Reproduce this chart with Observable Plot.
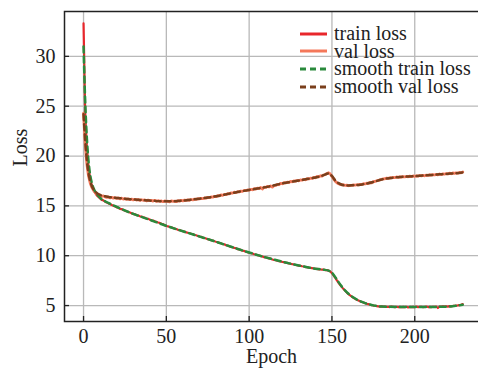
<!DOCTYPE html>
<html>
<head>
<meta charset="utf-8">
<script src="https://cdn.jsdelivr.net/npm/d3@7"></script>
<script src="https://cdn.jsdelivr.net/npm/@observablehq/plot@0.6"></script>
<style>
  html, body { margin: 0; padding: 0; background: #fff; }
  #wrap { position: relative; width: 478px; height: 370px; font-family: "Liberation Serif", "DejaVu Serif", serif; }
  #legend { position: absolute; left: 298px; top: 25px; font-size: 20px; color: #222; line-height: 17.6px; }
  #legend div { display: flex; align-items: center; white-space: nowrap; height: 17.6px; }
  #legend span { display: inline-block; height: 17.6px; line-height: 17.6px; }
  #legend svg { margin-right: 6px; }
</style>
</head>
<body>
<div id="wrap"><div id="legend"></div></div>
<script>
// ---- data ----
const trainLoss = [
33.3,24.2,20.9,18.9,17.7,17.0,16.6,16.3,16.05,15.9,
15.75,15.6,15.55,15.42,15.35,15.25,15.2,15.08,15.02,14.95,
14.85,14.82,14.7,14.68,14.58,14.52,14.47,14.38,14.33,14.25,
14.2,14.15,14.08,14.05,13.96,13.92,13.86,13.82,13.72,13.7,
13.62,13.55,13.52,13.45,13.4,13.33,13.3,13.2,13.18,13.05,
12.98,12.95,12.88,12.85,12.78,12.72,12.68,12.6,12.57,12.5,
12.45,12.42,12.34,12.3,12.25,12.2,12.18,12.08,12.05,11.98,
11.92,11.9,11.82,11.78,11.72,11.66,11.62,11.55,11.52,11.45,
11.4,11.36,11.28,11.25,11.16,11.15,11.05,11.02,10.95,10.88,
10.85,10.78,10.75,10.66,10.62,10.58,10.5,10.48,10.4,10.35,
10.3,10.26,10.22,10.15,10.12,10.05,10.02,9.96,9.92,9.85,
9.82,9.78,9.72,9.7,9.62,9.58,9.55,9.5,9.46,9.42,
9.38,9.36,9.3,9.28,9.22,9.2,9.15,9.12,9.08,9.05,
9.0,8.98,8.94,8.92,8.86,8.85,8.8,8.78,8.75,8.72,
8.68,8.68,8.63,8.62,8.6,8.6,8.56,8.55,8.5,8.42,
8.25,8.02,7.78,7.52,7.28,7.05,6.85,6.65,6.48,6.3,
6.15,6.02,5.9,5.78,5.68,5.58,5.5,5.42,5.35,5.3,
5.24,5.18,5.14,5.08,5.05,5.0,4.98,4.95,4.92,4.9,
4.92,4.88,4.9,4.86,4.88,4.85,4.9,4.86,4.84,4.88,
4.85,4.87,4.83,4.86,4.85,4.88,4.82,4.86,4.84,4.87,
4.85,4.9,4.84,4.86,4.88,4.83,4.86,4.9,4.85,4.87,
4.84,4.88,4.86,4.9,4.75,4.9,4.88,4.92,4.9,4.93,
4.88,4.95,4.92,4.96,4.98,5.0,5.02,5.05,5.08,5.15
];
const valLoss = [
24.3,21.2,19.2,18.0,17.3,16.85,16.55,16.35,16.2,16.1,
16.05,15.95,16.0,15.9,15.85,15.9,15.8,15.85,15.78,15.82,
15.75,15.8,15.7,15.78,15.68,15.72,15.65,15.7,15.62,15.68,
15.6,15.66,15.58,15.64,15.55,15.62,15.56,15.6,15.5,15.58,
15.52,15.55,15.48,15.56,15.45,15.52,15.46,15.5,15.42,15.5,
15.44,15.47,15.4,15.5,15.45,15.48,15.42,15.52,15.48,15.55,
15.5,15.58,15.55,15.6,15.56,15.64,15.6,15.68,15.65,15.72,
15.7,15.75,15.72,15.8,15.78,15.85,15.82,15.9,15.88,15.95,
15.92,16.02,16.0,16.1,16.05,16.15,16.12,16.22,16.2,16.3,
16.28,16.38,16.33,16.42,16.4,16.48,16.45,16.55,16.52,16.6,
16.58,16.65,16.62,16.72,16.68,16.78,16.75,16.85,16.7,16.88,
16.85,16.95,16.9,17.0,16.88,17.02,17.05,17.15,17.12,17.25,
17.22,17.32,17.3,17.38,17.35,17.45,17.42,17.5,17.48,17.55,
17.52,17.6,17.58,17.66,17.62,17.72,17.7,17.78,17.75,17.85,
17.82,17.95,17.9,18.02,17.98,18.1,18.15,18.25,18.32,18.2,
17.95,17.7,17.48,17.32,17.22,17.15,17.1,17.12,17.05,17.08,
17.02,17.06,17.05,17.1,17.08,17.12,17.1,17.16,17.15,17.22,
17.2,17.28,17.26,17.34,17.32,17.42,17.45,17.52,17.55,17.62,
17.65,17.7,17.72,17.78,17.76,17.82,17.8,17.86,17.84,17.9,
17.86,17.92,17.88,17.94,17.9,17.95,17.92,17.98,17.94,18.0,
17.96,18.02,17.98,18.05,18.0,18.06,18.02,18.08,18.05,18.12,
18.08,18.14,18.1,18.16,18.12,18.2,18.15,18.22,18.18,18.25,
18.2,18.28,18.22,18.3,18.26,18.32,18.28,18.35,18.32,18.4
];
const smoothEpochs = [0,1,2,3,4,5,6,8,10,15,20,30,40,50,55,60,70,80,90,100,110,120,130,140,145,148,150,152,154,156,158,160,163,166,170,175,180,190,200,210,220,225,229];
const smoothTrain = [31.0,25.5,21.8,19.5,18.1,17.3,16.8,16.2,15.8,15.3,14.9,14.2,13.6,13.0,12.72,12.45,11.93,11.4,10.85,10.32,9.83,9.4,9.02,8.7,8.6,8.5,8.3,7.85,7.35,6.9,6.5,6.18,5.8,5.52,5.25,5.02,4.9,4.86,4.86,4.86,4.9,4.98,5.08];
const smoothVal = [24.2,21.6,19.6,18.3,17.5,17.0,16.65,16.3,16.1,15.9,15.8,15.65,15.53,15.46,15.46,15.53,15.72,15.96,16.3,16.6,16.88,17.25,17.55,17.85,18.08,18.25,18.0,17.55,17.28,17.12,17.05,17.05,17.08,17.1,17.2,17.4,17.64,17.88,17.98,18.1,18.22,18.28,18.36];
const xTicks = [0, 50, 100, 150, 200];
const yTicks = [5, 10, 15, 20, 25, 30];
const seriesNames = ["train loss", "val loss", "smooth train loss", "smooth val loss"];
const seriesColors = ["#e8262b", "#f4785a", "#2a8a3c", "#7a3f1c"];
const seriesDash = [null, null, "6,4", "6,4"];

// ---- build tables ----
const epochs = d3.range(trainLoss.length);
const trainRows = epochs.map(i => ({epoch: i, loss: trainLoss[i]}));
const valRows = epochs.map(i => ({epoch: i, loss: valLoss[i]}));
const sTrainRows = smoothEpochs.map((e, i) => ({epoch: e, loss: smoothTrain[i]}));
const sValRows = smoothEpochs.map((e, i) => ({epoch: e, loss: smoothVal[i]}));

const fontSize = 20;
const chart = Plot.plot({
  width: 478,
  height: 370,
  marginLeft: 64,
  marginRight: 0,
  marginTop: 11,
  marginBottom: 49,
  style: {fontFamily: '"Liberation Serif", "DejaVu Serif", serif', fontSize: fontSize + "px", color: "#222", background: "#fff"},
  x: {domain: [-11.5, 238.5]},
  y: {domain: [3.4, 34.5]},
  marks: [
    Plot.gridX(xTicks, {stroke: "#b9b9b9", strokeOpacity: 1, strokeWidth: 1.3}),
    Plot.gridY(yTicks, {stroke: "#b9b9b9", strokeOpacity: 1, strokeWidth: 1.3}),
    Plot.axisX({ticks: xTicks, tickSize: -5, tickPadding: 12, label: null, fontSize: fontSize, stroke: "#222", strokeWidth: 1.3}),
    Plot.axisY({ticks: yTicks, tickSize: -5, tickPadding: 14, label: null, fontSize: fontSize, stroke: "#222", strokeWidth: 1.3}),
    Plot.line(trainRows, {x: "epoch", y: "loss", stroke: seriesColors[0], strokeWidth: 2.2}),
    Plot.line(valRows, {x: "epoch", y: "loss", stroke: seriesColors[1], strokeWidth: 2.8}),
    Plot.line(sTrainRows, {x: "epoch", y: "loss", stroke: seriesColors[2], strokeWidth: 2.5, strokeDasharray: seriesDash[2], curve: "monotone-x"}),
    Plot.line(sValRows, {x: "epoch", y: "loss", stroke: seriesColors[3], strokeWidth: 2.5, strokeDasharray: seriesDash[3], curve: "monotone-x"}),
    Plot.frame({stroke: "#222", strokeWidth: 1.5, insetRight: -3}),
    Plot.text(["Epoch"], {frameAnchor: "bottom", dy: 41, fontSize: fontSize, fill: "#222"}),
    Plot.text(["Loss"], {frameAnchor: "left", dx: -44, rotate: -90, fontSize: fontSize, fill: "#222"})
  ]
});
document.getElementById("wrap").prepend(chart);

// ---- legend ----
const legend = document.getElementById("legend");
seriesNames.forEach((name, i) => {
  const row = document.createElement("div");
  const dash = seriesDash[i] ? `stroke-dasharray="${seriesDash[i]}"` : "";
  row.innerHTML = `<svg width="30" height="10"><line x1="2" x2="29" y1="5" y2="5" stroke="${seriesColors[i]}" stroke-width="3" ${dash}/></svg><span>${name}</span>`;
  legend.appendChild(row);
});
</script>
</body>
</html>
